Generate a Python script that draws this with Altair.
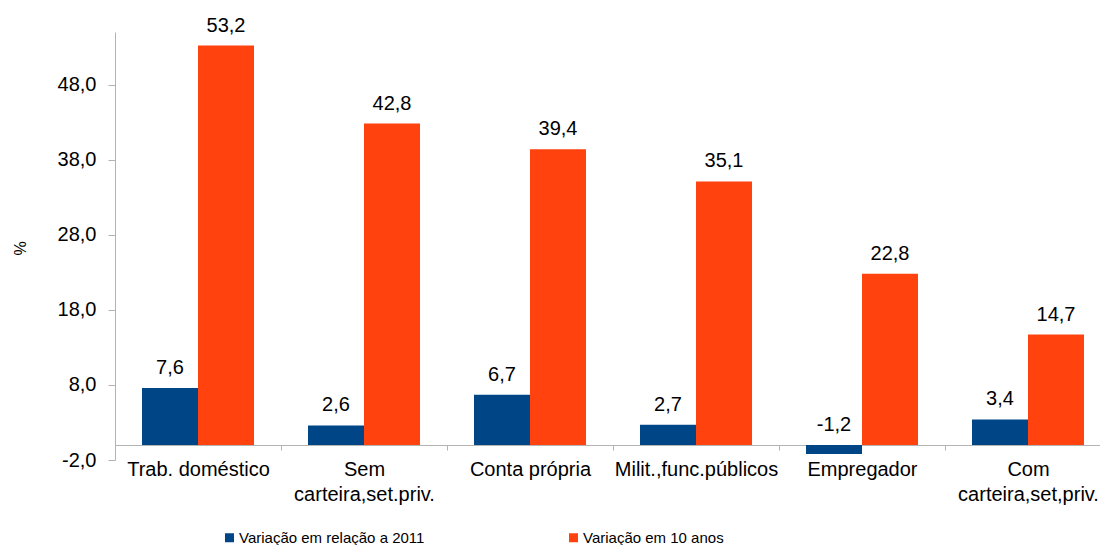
import altair as alt
import pandas as pd

categories = ["Trab. doméstico", "Sem\ncarteira,set.priv.", "Conta própria",
              "Milit.,func.públicos", "Empregador", "Com\ncarteira,set,priv."]
series_names = ["Variação em relação a 2011", "Variação em 10 anos"]
var_2011 = [7.6, 2.6, 6.7, 2.7, -1.2, 3.4]
var_10anos = [53.2, 42.8, 39.4, 35.1, 22.8, 14.7]
y_ticks = [-2, 8, 18, 28, 38, 48]
colors = ["#004586", "#ff420e"]

rows = []
for s, vals in zip(series_names, [var_2011, var_10anos]):
    for c, v in zip(categories, vals):
        rows.append({"cat": c, "serie": s, "value": v,
                     "label_y": max(v, 0),
                     "text": f"{v:.1f}".replace(".", ",")})
df = pd.DataFrame(rows)

FONT = "Liberation Sans"
GREY = "#b3b3b3"

base = alt.Chart(df).encode(
    x=alt.X("cat:N", sort=categories,
            scale=alt.Scale(range=[0, 996], paddingInner=0, paddingOuter=0),
            axis=alt.Axis(title=None, offset=-15, domainColor=GREY, tickColor=GREY,
                          tickSize=5, tickBand="extent", labelFontSize=20,
                          labelColor="black", labelFont=FONT, labelPadding=9,
                          labelAngle=0, labelLineHeight=25, labelLimit=300,
                          labelExpr="split(datum.label, '\\n')")),
    xOffset=alt.XOffset("serie:N", sort=series_names,
                        scale=alt.Scale(paddingOuter=0.482, paddingInner=0)),
)

bars = base.mark_bar().encode(
    y=alt.Y("value:Q",
            scale=alt.Scale(domain=[-2, 55], nice=False, zero=False),
            axis=alt.Axis(values=y_ticks, grid=False,
                          labelExpr="replace(replace(format(datum.value, '.1f'), '.', ','), '\u2212', '-')",
                          labelFontSize=20, labelColor="black", labelFont=FONT,
                          tickSize=7, labelPadding=12,
                          domainColor=GREY, tickColor=GREY,
                          title="%", titleFontSize=16, titleFontWeight="normal",
                          titleFont=FONT, titleColor="black",
                          titleAngle=270, titleX=-95, titleY=216,
                          titleAlign="center", titleBaseline="middle")),
    y2=alt.datum(0),
    color=alt.Color("serie:N", sort=series_names,
                    scale=alt.Scale(domain=series_names, range=colors),
                    legend=alt.Legend(title=None, orient="none", legendX=107, legendY=498,
                                      direction="horizontal", symbolType="square",
                                      symbolSize=81, symbolStrokeWidth=0,
                                      labelFont=FONT, labelLimit=400,
                                      labelFontSize=15, labelColor="black",
                                      labelOffset=2, columnPadding=141, padding=0)),
)

text = base.mark_text(dy=-14, fontSize=20, baseline="alphabetic", font=FONT,
                      color="black").encode(
    y=alt.Y("label_y:Q"),
    text="text:N",
)

chart = alt.layer(bars, text).properties(
    width=985, height=428,
    padding={"left": 107, "top": 24, "right": 0, "bottom": 85},
    autosize=alt.AutoSizeParams(type="none"),
    background="white",
).configure_view(stroke=None)

chart.save("out.html", embed_options={"renderer": "svg", "actions": False})
